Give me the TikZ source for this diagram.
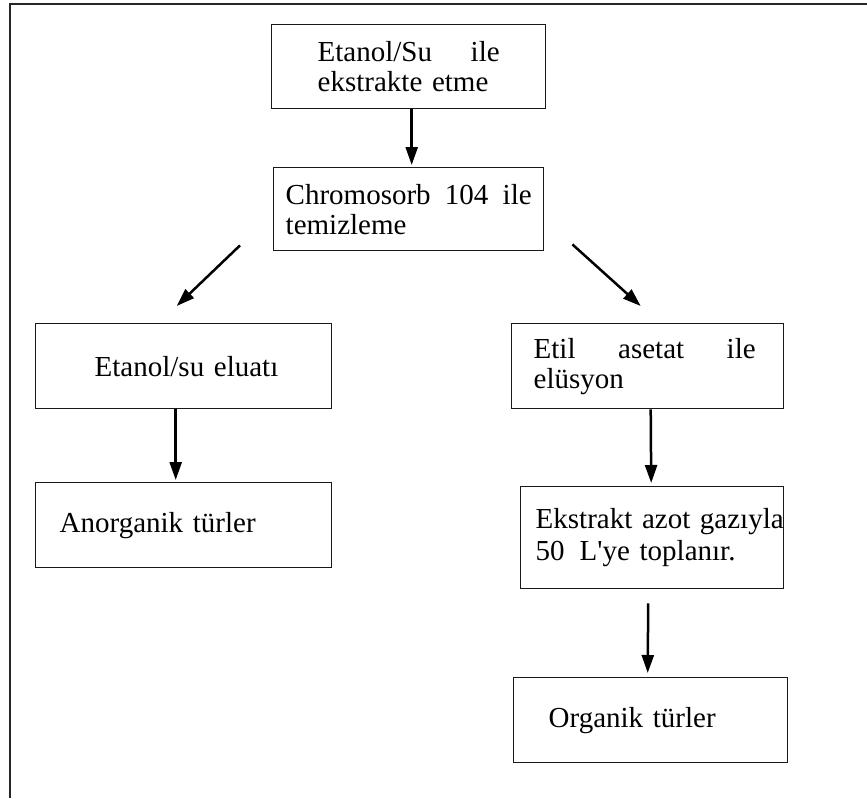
\documentclass[tikz,border=0pt]{standalone}
\usepackage{fontspec}
\setmainfont{Liberation Serif}[Ligatures=TeXOff]
\usetikzlibrary{arrows.meta}
\begin{document}
\begin{tikzpicture}[x=1pt,y=-1pt,
  box/.style={draw=black!90, line width=1.4pt, anchor=north west, align=left,
    inner ysep=0pt, font=\fontsize{29}{30}\selectfont},
  arr/.style={line width=2.5pt, -{Triangle[length=18pt,width=12pt]}},
  frame/.style={draw=black!85, line width=2pt}]
\useasboundingbox (0,0) rectangle (867,798);
\draw[frame] (10,798) -- (10,4) -- (867,4);
% boxes
\node[box, inner xsep=46pt, text width=182pt, minimum height=84pt] (b1) at (271,24)
  {\hbox to 182pt{Etanol/Su\hfill ile}\\ekstrakte etme};
\node[box, inner xsep=12pt, text width=246pt, minimum height=83pt] (b2) at (273,167)
  {\hbox to 246pt{Chromosorb\hfill 104\hfill ile}\\temizleme};
\node[box, inner xsep=10pt, text width=276pt, minimum height=85pt] (b3) at (35,323)
  {\hspace*{49pt}Etanol/su eluatı};
\node[box, inner xsep=10pt, text width=276pt, minimum height=85pt] (b4) at (35,482)
  {\hspace*{14pt}Anorganik türler};
\node[box, inner xsep=22pt, text width=228pt, minimum height=85pt] (b5) at (511,323)
  {\hbox to 222pt{Etil\hfill asetat\hfill ile}\\elüsyon};
\node[box, inner xsep=8pt, text width=247pt, minimum height=102pt] (b6) at (520,486)
  {\hspace*{7pt}\hbox{Ekstrakt azot gazıyla}\\[2pt]\hspace*{7pt}50\hspace{15pt}L'ye toplanır.};
\node[box, inner xsep=35pt, text width=204pt, minimum height=85pt] (b7) at (513,677)
  {Organik türler};
% arrows
\draw[arr] ([xshift=3pt]b1.south) -- ([xshift=3pt,yshift=2pt]b2.north);
\draw[arr] ([xshift=-33pt,yshift=6pt]b2.south west) -- ([xshift=-7pt,yshift=17pt]b3.north);
\draw[arr] ([xshift=28pt,yshift=7pt]b2.south east) -- ([xshift=-7pt,yshift=17pt]b5.north);
\draw[arr] ([xshift=-8pt]b3.south) -- ([xshift=-8pt,yshift=2pt]b4.north);
\draw[arr] ([xshift=3pt]b5.south) -- ([xshift=-1pt,yshift=3pt]b6.north);
\draw[arr] ([xshift=-4pt,yshift=-14pt]b6.south) -- ([xshift=-3pt,yshift=4pt]b7.north);
\end{tikzpicture}
\end{document}
